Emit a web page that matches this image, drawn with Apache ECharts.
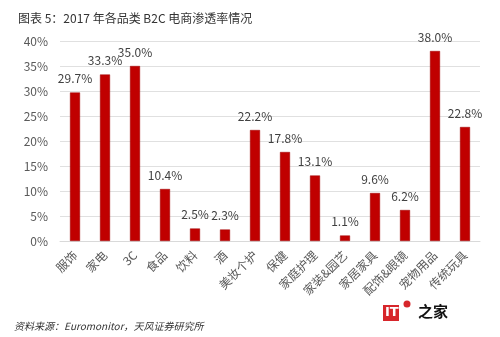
<!DOCTYPE html>
<html><head><meta charset="utf-8">
<script src="https://cdn.jsdelivr.net/npm/echarts@6/dist/echarts.min.js"></script>
<style>html,body{margin:0;padding:0;background:#fff}#c{width:500px;height:337px}</style>
</head><body><div id="c"></div>
<script>
var categories = ['服饰','家电','3C','食品','饮料','酒','美妆个护','保健','家庭护理','家装&园艺','家居家具','配饰&眼镜','宠物用品','传统玩具'];
var values = [29.7, 33.3, 35.0, 10.4, 2.5, 2.3, 22.2, 17.8, 13.1, 1.1, 9.6, 6.2, 38.0, 22.8];
var yTicks = [0, 5, 10, 15, 20, 25, 30, 35, 40];
var titleText = '图表 5：2017 年各品类 B2C 电商渗透率情况';
var sourceText = '资料来源：Euromonitor，天风证券研究所';

var chart = echarts.init(document.getElementById('c'));
chart.setOption({
  animation: false,
  backgroundColor: '#fff',
  textStyle: {fontFamily: '"Noto Sans CJK SC", "Noto Sans", sans-serif'},
  title: {text: titleText, left: 13, top: 7,
    textStyle: {fontSize: 12, fontWeight: 'normal', color: '#333'}},
  grid: {left: 60, right: 20, top: 41, bottom: 96},
  xAxis: {type: 'category', data: categories,
    axisLine: {show: true, lineStyle: {color: '#d9d9d9'}},
    axisTick: {show: false},
    axisLabel: {rotate: 45, interval: 0, fontSize: 12, color: '#595959', margin: 12}},
  yAxis: {type: 'value', min: yTicks[0], max: yTicks[yTicks.length-1], interval: 5,
    axisLine: {show: false}, axisTick: {show: false},
    splitLine: {lineStyle: {color: '#e0e0e0'}},
    axisLabel: {formatter: '{value}%', fontSize: 12, color: '#595959', margin: 12}},
  series: [{type: 'bar', data: values, barWidth: 10,
    itemStyle: {color: '#c00000', borderColor: '#9e0000', borderWidth: 0.5},
    label: {show: true, position: 'top', distance: 8, fontSize: 12, color: '#404040',
      formatter: function(p){return p.value.toFixed(1) + '%';}}}],
  graphic: [
    {type: 'text', left: 14, top: 321, style: {text: sourceText, fill: '#333',
      font: 'italic 10px "Noto Sans CJK SC", sans-serif'}},
    {type: 'rect', left: 383, top: 305, shape: {width: 16, height: 16}, style: {fill: '#d7262b'}},
    {type: 'text', left: 385, top: 306, style: {text: 'IT', fill: '#fff', font: 'bold 13px "DejaVu Sans", sans-serif'}},
    {type: 'circle', shape: {cx: 407, cy: 304, r: 3.5}, style: {fill: '#d7262b'}},
    {type: 'text', left: 418, top: 304, style: {text: '之家', fill: '#111', font: 'bold 15px "Noto Sans CJK SC", sans-serif'}}
  ]
});
</script></body></html>
